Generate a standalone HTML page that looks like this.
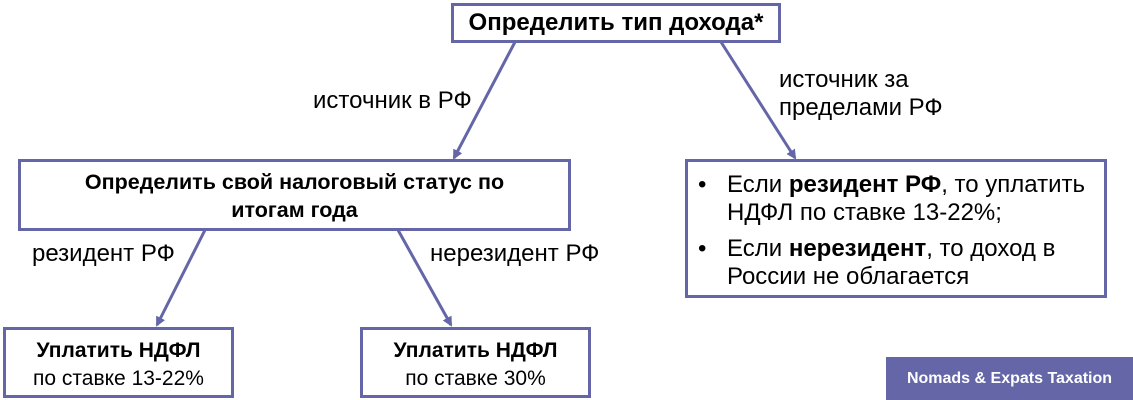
<!DOCTYPE html>
<html><head><meta charset="utf-8"><style>
body{margin:0;width:1133px;height:400px;background:#fff;position:relative;overflow:hidden;font-family:"Liberation Sans",Arial,sans-serif;color:#000}
.b{position:absolute;box-sizing:border-box;border:3px solid #6466a8;background:#fff;text-align:center}
.t{position:absolute;font-size:24px;line-height:28px;white-space:nowrap}
b{font-weight:bold}
</style></head><body>
<svg width="1133" height="400" style="position:absolute;left:0;top:0">
<defs><marker id="a" markerWidth="10" markerHeight="10" refX="8" refY="5" orient="auto" markerUnits="userSpaceOnUse"><path d="M0,0 L10,5 L0,10 z" fill="#6466a8"/></marker></defs>
<g stroke="#6466a8" stroke-width="3" fill="none" marker-end="url(#a)">
<line x1="515" y1="42" x2="454" y2="158"/>
<line x1="721" y1="42" x2="795" y2="158"/>
<line x1="205" y1="230" x2="157" y2="325"/>
<line x1="398" y1="230" x2="451" y2="325"/>
</g></svg>
<div class="b" style="left:451px;top:3px;width:330px;height:40px;font-size:24px;font-weight:bold;line-height:34px;white-space:nowrap">Определить тип дохода*</div>
<div class="b" style="left:18px;top:159px;width:553px;height:72px;font-size:21.5px;font-weight:bold;line-height:28px;padding-top:6px">Определить свой налоговый статус по<br>итогам года</div>
<div class="b" style="left:685px;top:159px;width:422px;height:139px"></div>
<div class="t" style="left:698px;top:171px">•</div>
<div class="t" style="left:727px;top:171px">Если <b>резидент РФ</b>, то уплатить<br>НДФЛ по ставке 13-22%;</div>
<div class="t" style="left:698px;top:235px">•</div>
<div class="t" style="left:727px;top:235px">Если <b>нерезидент</b>, то доход в<br>России не облагается</div>
<div class="b" style="left:3px;top:327px;width:231px;height:71px;font-size:21px;line-height:28px;padding-top:7px;white-space:nowrap"><b>Уплатить НДФЛ</b><br>по ставке 13-22%</div>
<div class="b" style="left:360px;top:327px;width:231px;height:71px;font-size:21px;line-height:28px;padding-top:7px;white-space:nowrap"><b>Уплатить НДФЛ</b><br>по ставке 30%</div>
<div class="t" style="left:313px;top:87px">источник в РФ</div>
<div class="t" style="left:779px;top:66px">источник за<br>пределами РФ</div>
<div class="t" style="left:32px;top:240px">резидент РФ</div>
<div class="t" style="left:430px;top:240px">нерезидент РФ</div>
<div style="position:absolute;left:886px;top:357px;width:247px;height:43px;background:#6466a8;color:#fff;font-weight:bold;font-size:16px;line-height:43px;text-align:center">Nomads &amp; Expats Taxation</div>
</body></html>
